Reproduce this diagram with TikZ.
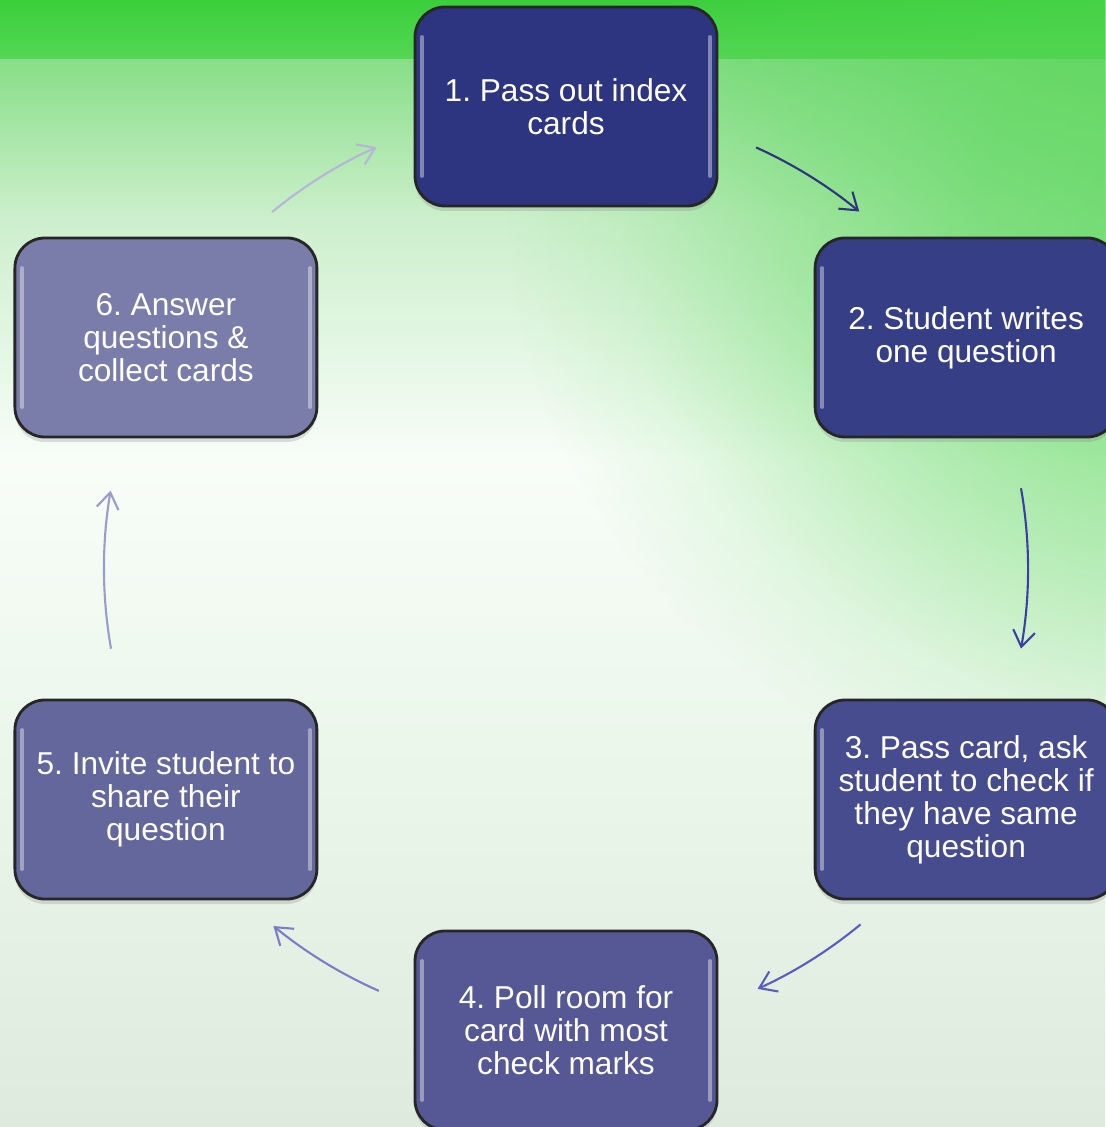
\documentclass[tikz,border=0pt]{standalone}
\usepackage{fontspec}
\setmainfont{Liberation Sans}
\usepackage{tikz}
\usetikzlibrary{calc,arrows.meta,shadows,fadings}

\frenchspacing

\definecolor{card1}{HTML}{2E3580}
\definecolor{card2}{HTML}{363E86}
\definecolor{card3}{HTML}{474C8F}
\definecolor{card4}{HTML}{555894}
\definecolor{card5}{HTML}{64679C}
\definecolor{card6}{HTML}{7A7CAA}

\definecolor{flow1}{HTML}{2E3580}
\definecolor{flow2}{HTML}{3B41A0}
\definecolor{flow3}{HTML}{585DBE}
\definecolor{flow4}{HTML}{7B7EC4}
\definecolor{flow5}{HTML}{9A9CCC}
\definecolor{flow6}{HTML}{B5B6D6}

\definecolor{bgtop}{HTML}{3ACF3A}
\definecolor{bgband}{HTML}{55D655}
\definecolor{bgstep}{HTML}{88DE88}
\definecolor{bgpale}{HTML}{CDEFCD}
\definecolor{bgwhite}{HTML}{F8FDF8}
\definecolor{bgmint}{HTML}{EAF6EA}
\definecolor{bgbottom}{HTML}{DFEADF}
\definecolor{bgglow}{HTML}{4FD44F}

% soft radial glow, opaque in the middle
\pgfdeclareradialshading{glowshade}{\pgfpointorigin}{color(0bp)=(white!75!black);
	color(8bp)=(white!62!black); color(15bp)=(white!36!black);
	color(21bp)=(white!10!black); color(25bp)=(black); color(50bp)=(black)}
\pgfdeclarefading{glow}{\pgfuseshading{glowshade}}

\tikzset{
	card/.style={rectangle, rounded corners=0.3cm, fill=#1, draw=black!85,
		line width=0.8pt, minimum width=3.02cm, minimum height=1.99cm,
		inner sep=0pt, text=white, align=center,
		font=\fontsize{9}{9.4}\selectfont,
		drop shadow={opacity=0.25, shadow xshift=0pt, shadow yshift=-0.5mm},
		path picture={
			\draw[white, opacity=0.4, line width=1.1pt, line cap=round]
				([xshift=0.07cm, yshift=-0.3cm]path picture bounding box.north west)
				-- ([xshift=0.07cm, yshift=0.3cm]path picture bounding box.south west);
			\draw[white, opacity=0.4, line width=1.1pt, line cap=round]
				([xshift=-0.07cm, yshift=-0.3cm]path picture bounding box.north east)
				-- ([xshift=-0.07cm, yshift=0.3cm]path picture bounding box.south east);
		}},
	flow/.style={line width=0.6pt, -{Straight Barb[length=1.6mm, width=2.2mm]}}
}

\begin{document}
\begin{tikzpicture}

	% ---- parameters

	\def\radius{4.62}

	% ---- background

	\useasboundingbox (0,0) rectangle (11.05,-11.27);

	\shade[top color=bgtop, bottom color=bgband] (0,0) rectangle (11.05,-0.6);
	\shade[top color=bgstep, bottom color=bgpale] (0,-0.6) rectangle (11.05,-2.2);
	\shade[top color=bgpale, bottom color=bgwhite] (0,-2.2) rectangle (11.05,-4.6);
	\shade[top color=bgwhite, bottom color=bgmint] (0,-4.6) rectangle (11.05,-7.8);
	\shade[top color=bgmint, bottom color=bgbottom] (0,-7.8) rectangle (11.05,-11.27);
	\fill[bgglow, path fading=glow] (12.0,-2.2) ellipse (6.9 and 6.0);

	% ---- coordinates

	\coordinate (O) at (5.66,-5.685);

	\foreach \i in {1,...,6} {
		\coordinate (P\i) at ($(O)+({90-60*(\i-1)}:\radius)$);
	}

	% ---- cards

	\node[card=card1] (step1) at (P1) {1. Pass out index\\cards};
	\node[card=card2] (step2) at (P2) {2. Student writes\\one question};
	\node[card=card3] (step3) at (P3) {3. Pass card, ask\\student to check if\\they have same\\question};
	\node[card=card4] (step4) at (P4) {4. Poll room for\\card with most\\check marks};
	\node[card=card5] (step5) at (P5) {5. Invite student to\\share their\\question};
	\node[card=card6] (step6) at (P6) {6. Answer\\questions \&\\collect cards};

	% ---- arrows

	\foreach \a/\b/\c [count=\i] in {65.7/50.6/flow1, 10/-10/flow2, -50.4/-65.5/flow3,
		-113.9/-129.3/flow4, 190/170.3/flow5, 129.5/114.2/flow6} {
		\coordinate (A\i) at ($(O)+(\a:\radius)$);
		\draw[flow, draw=\c] (A\i) arc[start angle=\a, end angle=\b, radius=\radius];
	}

\end{tikzpicture}
\end{document}
